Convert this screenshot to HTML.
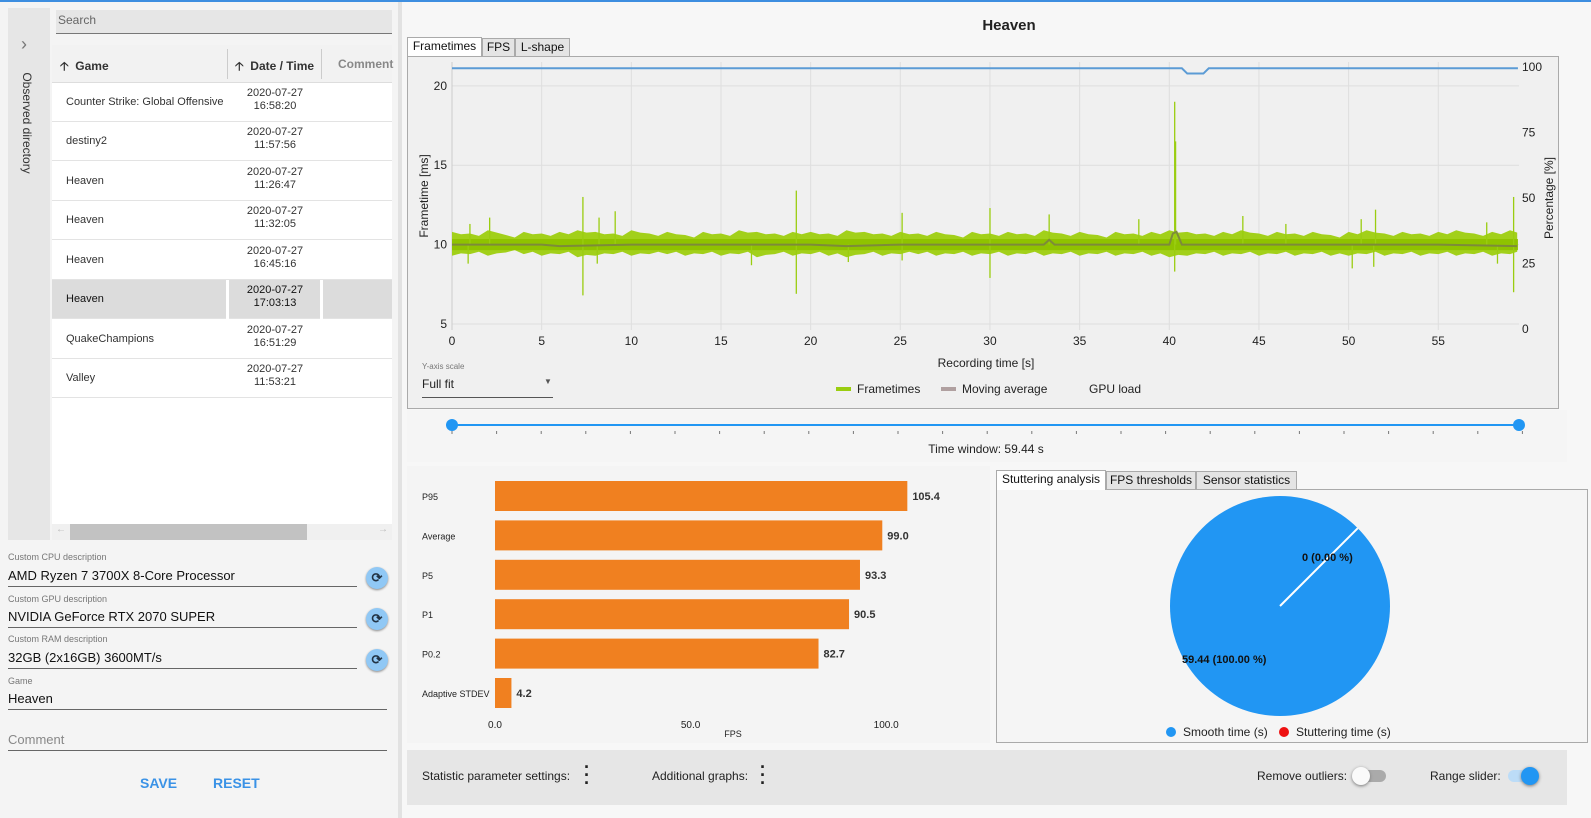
<!DOCTYPE html>
<html><head><meta charset="utf-8"><style>
*{box-sizing:border-box;margin:0;padding:0}
body{width:1591px;height:818px;position:relative;overflow:hidden;background:#f7f7f7;font-family:"Liberation Sans",sans-serif;color:#222}
.a{position:absolute}
.row{position:absolute;left:52px;width:340px;height:39px;border-bottom:1px solid #e3e3e3;background:#fff;font-size:11px;color:#333}
.row .g{position:absolute;left:14px;top:13px}
.row .d{position:absolute;left:176px;width:94px;top:4px;text-align:center;line-height:13px}
.lbl{position:absolute;left:8px;font-size:9px;color:#777}
.val{position:absolute;left:8px;font-size:13px;color:#111}
.ul{position:absolute;left:8px;height:1px;background:#666}
.ref{position:absolute;width:22px;height:22px;border-radius:50%;background:#90c8f5;box-shadow:0 1px 2px #888;text-align:center;line-height:22px;font-size:13px;font-weight:bold;color:#234}
.tab{position:absolute;height:19px;border:1px solid #aaa;background:#e4e4e4;font-size:12px;text-align:center;line-height:17px;color:#111}
</style></head><body>
<div class="a" style="left:0;top:0;width:1591px;height:2px;background:#3d8ee0"></div>
<div class="a" style="left:0;top:2px;width:398px;height:816px;background:#f4f4f4"></div>
<div class="a" style="left:398px;top:2px;width:4px;height:816px;background:#e2e2e2"></div>
<div class="a" style="left:8px;top:8px;width:42px;height:532px;background:#e6e6e6"></div>
<div class="a" style="left:21px;top:34px;font-size:18px;color:#777">&#8250;</div>
<div class="a" style="left:-33px;top:116px;width:120px;font-size:12px;color:#333;transform:rotate(90deg);text-align:center;white-space:nowrap">Observed directory</div>
<div class="a" style="left:56px;top:10px;width:336px;height:24px;background:#e6e6e6;border-bottom:1px solid #777;font-size:12px;color:#666;padding:3px 2px">Search</div>
<div class="a" style="left:52px;top:45px;width:340px;height:38px;background:#f2f2f2;border-bottom:1px solid #ddd;font-size:12px;font-weight:bold;color:#333">
<span class="a" style="left:8px;top:12px">&#129121;&nbsp; Game</span>
<span class="a" style="left:175px;top:4px;width:1px;height:30px;background:#ccc"></span>
<span class="a" style="left:183px;top:12px">&#129121;&nbsp; Date / Time</span>
<span class="a" style="left:269px;top:4px;width:1px;height:30px;background:#ccc"></span>
<span class="a" style="left:286px;top:12px;color:#888">Comment</span></div>
<div class="a" style="left:52px;top:83px;width:340px;height:441px;background:#fff"></div>
<div class="row" style="top:83px"><span class="g">Counter Strike: Global Offensive</span><span class="d">2020-07-27<br>16:58:20</span></div>
<div class="row" style="top:122px"><span class="g">destiny2</span><span class="d">2020-07-27<br>11:57:56</span></div>
<div class="row" style="top:162px"><span class="g">Heaven</span><span class="d">2020-07-27<br>11:26:47</span></div>
<div class="row" style="top:201px"><span class="g">Heaven</span><span class="d">2020-07-27<br>11:32:05</span></div>
<div class="row" style="top:241px"><span class="g">Heaven</span><span class="d">2020-07-27<br>16:45:16</span></div>
<div class="row" style="top:280px;background:#dcdcdc;color:#111"><span class="g">Heaven</span><span class="d">2020-07-27<br>17:03:13</span><span class="a" style="left:174px;top:0;width:3px;height:39px;background:#fff"></span><span class="a" style="left:268px;top:0;width:3px;height:39px;background:#fff"></span></div>
<div class="row" style="top:320px"><span class="g">QuakeChampions</span><span class="d">2020-07-27<br>16:51:29</span></div>
<div class="row" style="top:359px"><span class="g">Valley</span><span class="d">2020-07-27<br>11:53:21</span></div>
<div class="a" style="left:52px;top:524px;width:340px;height:16px;background:#f0f0f0"><div class="a" style="left:18px;top:0;width:237px;height:16px;background:#c2c2c2"></div><span class="a" style="left:4px;top:0;font-size:10px;color:#bbb">&#8592;</span><span class="a" style="left:326px;top:0;font-size:10px;color:#bbb">&#8594;</span></div>

<div class="lbl" style="top:552px">Custom CPU description</div>
<div class="val" style="top:568px">AMD Ryzen 7 3700X 8-Core Processor</div>
<div class="ul" style="top:586px;width:349px"></div>
<div class="ref" style="left:366px;top:567px">&#10227;</div>
<div class="lbl" style="top:594px">Custom GPU description</div>
<div class="val" style="top:609px">NVIDIA GeForce RTX 2070 SUPER</div>
<div class="ul" style="top:627px;width:349px"></div>
<div class="ref" style="left:366px;top:608px">&#10227;</div>
<div class="lbl" style="top:634px">Custom RAM description</div>
<div class="val" style="top:650px">32GB (2x16GB) 3600MT/s</div>
<div class="ul" style="top:668px;width:349px"></div>
<div class="ref" style="left:366px;top:649px">&#10227;</div>
<div class="lbl" style="top:676px">Game</div>
<div class="val" style="top:691px">Heaven</div>
<div class="ul" style="top:709px;width:379px"></div>
<div class="val" style="top:732px;color:#888">Comment</div>
<div class="ul" style="top:750px;width:379px"></div>
<div class="a" style="left:140px;top:775px;font-size:14px;font-weight:bold;color:#3a92e6">SAVE</div>
<div class="a" style="left:213px;top:775px;font-size:14px;font-weight:bold;color:#3a92e6">RESET</div>

<div class="a" style="left:909px;top:17px;width:200px;text-align:center;font-size:15px;font-weight:bold">Heaven</div>
<div class="tab" style="left:407px;top:37px;width:75px;background:#fff;border-bottom:none;height:20px">Frametimes</div>
<div class="tab" style="left:482px;top:38px;width:33px">FPS</div>
<div class="tab" style="left:515px;top:38px;width:55px">L-shape</div>

<svg class="a" style="left:0;top:0" width="1591" height="818">
<rect x="407.5" y="56.5" width="1151" height="352" fill="#f0f0f0" stroke="#aaa"/>
<g id="ft"></g>
<rect x="407" y="410" width="1160" height="52" fill="#f5f5f5"/>
<g id="rs"></g>
<rect x="407" y="466" width="583" height="277" fill="#f4f4f4"/>
<g id="bars"></g>
<rect x="996.5" y="489.5" width="591" height="253" fill="#f5f5f5" stroke="#aaa"/>
<g id="pie"></g>
<rect x="407" y="750" width="1160" height="55" fill="#e6e6e6"/>
</svg>
<div class="tab" style="left:996px;top:470px;width:110px;background:#fff;border-bottom:none;height:20px">Stuttering analysis</div>
<div class="tab" style="left:1106px;top:471px;width:90px">FPS thresholds</div>
<div class="tab" style="left:1196px;top:471px;width:101px">Sensor statistics</div>

<div class="a" style="left:422px;top:362px;font-size:8px;color:#777">Y-axis scale</div>
<div class="a" style="left:422px;top:377px;width:131px;height:21px;border-bottom:1px solid #555;font-size:12px">Full fit<span class="a" style="left:122px;top:0;font-size:8px;color:#555">&#9660;</span></div>

<div class="a" style="left:422px;top:769px;font-size:12px">Statistic parameter settings:</div>
<div class="a" style="left:582px;top:763px;font-size:18px;font-weight:bold;line-height:8px;width:10px;text-align:center">&#183;<br>&#183;<br>&#183;</div>
<div class="a" style="left:652px;top:769px;font-size:12px">Additional graphs:</div>
<div class="a" style="left:758px;top:763px;font-size:18px;font-weight:bold;line-height:8px;width:10px;text-align:center">&#183;<br>&#183;<br>&#183;</div>
<div class="a" style="left:1257px;top:769px;font-size:12px">Remove outliers:</div>
<div class="a" style="left:1358px;top:770px;width:28px;height:12px;border-radius:6px;background:#aaa"><div class="a" style="left:-6px;top:-3px;width:18px;height:18px;border-radius:50%;background:#fafafa;box-shadow:0 1px 3px #777"></div></div>
<div class="a" style="left:1430px;top:769px;font-size:12px">Range slider:</div>
<div class="a" style="left:1508px;top:770px;width:28px;height:12px;border-radius:6px;background:#bcdcf7"><div class="a" style="left:13px;top:-3px;width:18px;height:18px;border-radius:50%;background:#2196f3;box-shadow:0 1px 3px #777"></div></div>

<script>
const NS="http://www.w3.org/2000/svg";
function mk(p,t,a,txt){const e=document.createElementNS(NS,t);for(const k in a)e.setAttribute(k,a[k]);if(txt!=null)e.textContent=txt;p.appendChild(e);return e;}
// ---- Frametime chart data ----
const xTicks=[0,5,10,15,20,25,30,35,40,45,50,55];
const yTicks=[5,10,15,20];
const pTicks=[0,25,50,75,100];
const bandHigh=[10.8,10.7,10.9,10.6,10.8,10.7,10.8,10.9,10.8,10.7,10.9,10.7,10.8,10.6,10.8,10.7,10.9,10.8,10.7,10.8,10.8,10.7,10.9,10.8,10.7,10.8,10.7,10.8,10.6,10.8,10.7,10.8,10.7,10.9,10.7,10.8,10.6,10.8,10.7,10.8,10.9,10.8,10.7,10.8,10.9,10.7,10.8,10.7,10.8,10.6,10.8,10.9,10.7,10.8,10.7,10.8,10.9,10.7,10.8,10.9];
const bandLow=[9.3,9.4,9.3,9.5,9.4,9.3,9.4,9.2,9.3,9.4,9.3,9.4,9.4,9.3,9.4,9.3,9.4,9.2,9.4,9.3,9.4,9.3,9.2,9.4,9.3,9.4,9.4,9.3,9.4,9.3,9.4,9.3,9.4,9.3,9.4,9.3,9.4,9.3,9.4,9.3,9.2,9.3,9.4,9.3,9.4,9.3,9.4,9.3,9.4,9.3,9.3,9.4,9.3,9.4,9.3,9.4,9.3,9.4,9.3,9.4];
const spikeTimes=[0.9,1.0,2.1,7.3,7.3,8.1,8.2,9.1,16.7,19.2,19.2,22.1,25.1,25.1,30.0,30.0,33.3,38.3,40.3,40.3,40.35,44.1,46.5,50.2,50.7,51.4,51.5,57.7,58.3,59.2,59.2];
const spikeValues=[8.8,11.3,11.7,13.0,6.8,8.8,11.7,12.1,8.7,13.4,6.9,8.9,12.0,9.0,12.3,7.9,11.9,11.6,19.0,8.3,16.5,11.8,11.3,8.5,11.6,8.6,12.2,11.4,8.8,13.0,7.0];
const maTimes=[0,5,6,10,15,20,22,25,30,33,33.3,33.6,40,40.2,40.4,40.7,45,50,55,59.4];
const maValues=[10.0,10.0,9.9,10.0,10.0,10.0,9.9,10.0,10.0,10.0,10.3,10.0,10.0,10.7,10.8,10.0,10.0,10.0,10.0,9.9];
const gpuTimes=[0,40.7,41.0,41.9,42.2,59.44];
const gpuValues=[99.5,99.5,97.5,97.5,99.5,99.5];
const X0=452,X1=1519,T1=59.5,Y0=330,YT=62,MS0=4.62,MS1=21.5;
const xs=t=>X0+(t/T1)*(X1-X0);
const ys=v=>Y0-(v-MS0)/(MS1-MS0)*(Y0-YT);
const yp=p=>329-p/100*262;
const ft=document.getElementById('ft');
xTicks.forEach(t=>{
 let l=mk(ft,'line',{x1:xs(t),x2:xs(t),y1:YT,y2:Y0,stroke:'#dedede'});
 
 let tx=mk(ft,'text',{x:xs(t),y:345,'text-anchor':'middle','font-size':12,fill:'#222'},t);
 
});
yTicks.forEach(v=>{
 let l=mk(ft,'line',{x1:X0,x2:X1,y1:ys(v),y2:ys(v),stroke:'#dedede'});
 
 let tx=mk(ft,'text',{x:447,y:ys(v)+4,'text-anchor':'end','font-size':12,fill:'#222'},v);
 
});
pTicks.forEach(p=>{
 let tx=mk(ft,'text',{x:1522,y:yp(p)+4,'font-size':12,fill:'#222'},p);
 
});
let ax=mk(ft,'line',{x1:X0,x2:X0,y1:YT,y2:Y0,stroke:'#ccc'});

let pts=[];
bandHigh.forEach((v,i)=>{pts.push(xs(Math.min(i,T1-0.1))+','+ys(v));pts.push(xs(Math.min(i+0.5,T1-0.1))+','+ys(v-0.15));});
for(let i=bandLow.length-1;i>=0;i--){pts.push(xs(Math.min(i+0.5,T1-0.1))+','+ys(bandLow[i]+0.15));pts.push(xs(Math.min(i,T1-0.1))+','+ys(bandLow[i]));}
let band=mk(ft,'polygon',{points:pts.join(' '),fill:'#a2d01a'});

let core=mk(ft,'rect',{x:X0,y:ys(10.35),width:xs(59.44)-X0,height:ys(9.65)-ys(10.35),fill:'#8fc300'});

spikeTimes.forEach((t,i)=>{
 let l=mk(ft,'line',{x1:xs(t),x2:xs(t),y1:ys(10),y2:ys(spikeValues[i]),stroke:'#9acd10','stroke-width':1.3});
 
});
let ma=mk(ft,'polyline',{points:maTimes.map((t,i)=>xs(t)+','+ys(maValues[i])).join(' '),fill:'none',stroke:'#7d8b3a','stroke-width':2});

let gp=mk(ft,'polyline',{points:gpuTimes.map((t,i)=>xs(t)+','+yp(gpuValues[i])).join(' '),fill:'none',stroke:'#5b9bd5','stroke-width':2});

let t1=mk(ft,'text',{x:428,y:196,'font-size':12,transform:'rotate(-90 428 196)','text-anchor':'middle',fill:'#222'},'Frametime [ms]');

let t2=mk(ft,'text',{x:1553,y:198,'font-size':12,transform:'rotate(-90 1553 198)','text-anchor':'middle',fill:'#222'},'Percentage [%]');

let t3=mk(ft,'text',{x:986,y:367,'font-size':12,'text-anchor':'middle',fill:'#222'},'Recording time [s]');

const legNames=['Frametimes','Moving average','GPU load'];
const legColors=['#9acd10','#b0a0a0',null];
const legX=[836,941,1089];
legNames.forEach((n,i)=>{
 if(legColors[i]){let r=mk(ft,'rect',{x:legX[i],y:387,width:15,height:4,fill:legColors[i]});}
 let tx=mk(ft,'text',{x:legX[i]+(legColors[i]?21:0),y:393,'font-size':12,fill:'#222'},n);
 
});
const rs=document.getElementById('rs');
let rl=mk(rs,'line',{x1:452,x2:1519,y1:425,y2:425,stroke:'#2196f3','stroke-width':2});

for(let i=0;i<=24;i++){let tk=mk(rs,'line',{x1:452+i*44.6,x2:452+i*44.6,y1:431,y2:434,stroke:'#777'});}
[452,1519].forEach(x=>{let c=mk(rs,'circle',{cx:x,cy:425,r:6,fill:'#2196f3'});});
let tw=mk(rs,'text',{x:986,y:453,'font-size':12,'text-anchor':'middle',fill:'#222'},'Time window:  59.44 s');

// bar chart
const barLabels=['P95','Average','P5','P1','P0.2','Adaptive STDEV'];
const barValues=[105.4,99.0,93.3,90.5,82.7,4.2];
const fpsTicks=[0,50,100];
const B0=495,BS=3.912,BY=481,BSTEP=39.4,BH=30;
const bx=v=>B0+v*BS;
const bg=document.getElementById('bars');
barLabels.forEach((n,i)=>{
 const y=BY+i*BSTEP;
 let r=mk(bg,'rect',{x:B0,y:y,width:bx(barValues[i])-B0,height:BH,fill:'#f08020'});
 
 let l=mk(bg,'text',{x:422,y:y+BH/2+4,'font-size':9,fill:'#222'},n);
 
 let v=mk(bg,'text',{x:bx(barValues[i])+5,y:y+BH/2+4,'font-size':11,'font-weight':'bold',fill:'#333'},barValues[i].toFixed(1));
 
});
fpsTicks.forEach(t=>{let tx=mk(bg,'text',{x:bx(t),y:728,'font-size':10,'text-anchor':'middle',fill:'#222'},t.toFixed(1));});
let fl=mk(bg,'text',{x:733,y:737,'font-size':9,'text-anchor':'middle',fill:'#222'},'FPS');

// pie
const pieLabels=['Smooth time (s)','Stuttering time (s)'];
const pieValues=[59.44,0];
const pieColors=['#2196f3','#ee1111'];
const pg=document.getElementById('pie');
const CX=1280,CY=606,R=110;
const total=pieValues.reduce((a,b)=>a+b,0);
let ang=-Math.PI/4;
pieValues.forEach((v,i)=>{
 const f=v/total;
 if(f>=0.9999){let c=mk(pg,'circle',{cx:CX,cy:CY,r:R,fill:pieColors[i]});}
 else if(f>0){const a2=ang+f*2*Math.PI;let p=mk(pg,'path',{d:`M${CX},${CY}L${CX+R*Math.cos(ang)},${CY+R*Math.sin(ang)}A${R},${R} 0 ${f>0.5?1:0} 1 ${CX+R*Math.cos(a2)},${CY+R*Math.sin(a2)}Z`,fill:pieColors[i]});}
 ang+=f*2*Math.PI;
});
let sep=mk(pg,'line',{x1:CX,y1:CY,x2:CX+R*Math.cos(-Math.PI/4),y2:CY+R*Math.sin(-Math.PI/4),stroke:'#fff','stroke-width':2});

let pl1=mk(pg,'text',{x:1302,y:561,'font-size':11,'font-weight':'bold',fill:'#111'},pieValues[1]+' ('+(pieValues[1]/total*100).toFixed(2)+' %)');

let pl2=mk(pg,'text',{x:1182,y:663,'font-size':11,'font-weight':'bold',fill:'#111'},pieValues[0].toFixed(2)+' ('+(pieValues[0]/total*100).toFixed(2)+' %)');

const pieLegX=[1171,1284];
pieLabels.forEach((n,i)=>{
 let c=mk(pg,'circle',{cx:pieLegX[i],cy:732,r:5,fill:pieColors[i]});
 let t=mk(pg,'text',{x:pieLegX[i]+12,y:736,'font-size':12,fill:'#222'},n);
});
</script>
</body></html>
